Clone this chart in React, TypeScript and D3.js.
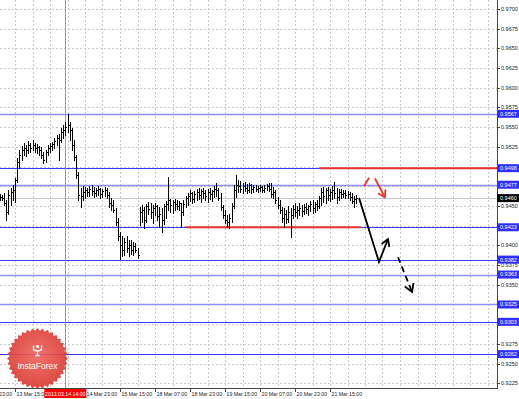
import React from 'react';
import * as d3 from 'd3';

// ---- DATA (prices in points, 1 point = 0.0001) ----
// hourly bars [open, high, low, close]; index 0 = 12 Mar 23:00
const week1Start = 9;
const week1Bars: number[][] = [
  [9463,9465,9458,9461],[9461,9464,9458,9460],[9460,9466,9451,9454],[9454,9458,9432,9442],
  [9442,9470,9440,9464],[9464,9473,9451,9468],[9468,9477,9458,9470],[9470,9486,9455,9483],
  [9483,9511,9480,9506],[9506,9521,9498,9515],[9515,9526,9508,9521],[9521,9530,9515,9524],
  [9524,9527,9513,9521],[9521,9532,9517,9527],[9527,9530,9519,9524],[9524,9534,9521,9527],
  [9527,9530,9519,9524],[9524,9529,9517,9525],[9525,9526,9515,9521],[9521,9525,9511,9515],
  [9515,9519,9505,9508],[9508,9521,9506,9519],[9519,9527,9515,9524],[9524,9530,9519,9526],
  [9526,9531,9521,9529],[9529,9536,9524,9532],[9532,9540,9527,9536],[9536,9541,9508,9534],
  [9534,9549,9531,9544],[9544,9553,9536,9546],[9546,9557,9540,9550],[9550,9567,9544,9553],
  [9553,9557,9534,9546],[9546,9549,9521,9527],[9527,9534,9508,9512],[9512,9515,9486,9489],
  [9489,9493,9458,9464],[9464,9473,9449,9463],[9463,9475,9458,9468],[9468,9474,9460,9470],
  [9470,9473,9463,9468],[9468,9475,9463,9472],[9472,9477,9464,9469],[9469,9474,9461,9466],
  [9466,9473,9463,9470],[9470,9475,9464,9472],[9472,9473,9460,9465],[9465,9472,9461,9469],
  [9469,9474,9463,9470],[9470,9473,9460,9464],[9464,9468,9449,9454],[9454,9460,9445,9451],
  [9451,9458,9442,9445],[9445,9447,9426,9430],[9430,9435,9407,9412],[9412,9417,9383,9401],
  [9401,9412,9387,9394],[9394,9409,9388,9404],[9404,9412,9392,9397],[9397,9407,9387,9401],
  [9401,9407,9389,9394],[9394,9404,9388,9399],[9399,9403,9392,9394],[9394,9397,9384,9388],
];
const week2Start = 73;
const week2Bars: number[][] = [
  [9439,9449,9426,9442],[9442,9451,9430,9445],[9445,9449,9422,9432],[9432,9453,9430,9450],
  [9450,9455,9440,9446],[9446,9454,9435,9442],[9442,9451,9428,9447],[9447,9454,9439,9450],
  [9450,9451,9432,9437],[9437,9449,9423,9440],[9440,9447,9417,9432],[9432,9453,9427,9450],
  [9450,9456,9435,9453],[9453,9487,9445,9458],[9458,9459,9442,9451],[9451,9458,9441,9455],
  [9455,9459,9445,9453],[9453,9458,9446,9450],[9450,9456,9445,9454],[9454,9454,9423,9442],
  [9442,9458,9439,9453],[9453,9463,9449,9460],[9460,9466,9451,9463],[9463,9470,9456,9466],
  [9466,9468,9454,9459],[9459,9469,9455,9465],[9465,9472,9458,9468],[9468,9473,9459,9464],
  [9464,9472,9455,9469],[9469,9473,9460,9466],[9466,9470,9458,9463],[9463,9472,9455,9468],
  [9468,9473,9459,9465],[9465,9470,9456,9469],[9469,9475,9461,9472],[9472,9479,9463,9470],
  [9470,9473,9458,9460],[9460,9466,9445,9449],[9449,9451,9435,9439],[9439,9445,9428,9432],
  [9432,9439,9423,9430],[9430,9440,9422,9435],[9435,9454,9430,9450],[9450,9477,9447,9470],
  [9470,9489,9461,9477],[9477,9483,9468,9475],[9475,9482,9468,9472],[9472,9479,9466,9475],
  [9475,9480,9469,9473],[9473,9478,9466,9470],[9470,9479,9468,9477],[9477,9478,9466,9472],
  [9472,9477,9468,9474],[9474,9477,9469,9472],[9472,9475,9468,9473],[9473,9477,9469,9474],
  [9474,9475,9468,9470],[9470,9477,9468,9473],[9473,9478,9470,9475],[9475,9479,9469,9472],
  [9472,9479,9461,9465],[9465,9474,9460,9468],[9468,9470,9454,9458],[9458,9461,9447,9451],
  [9451,9458,9441,9445],[9445,9449,9430,9435],[9435,9447,9423,9440],[9440,9445,9428,9434],
  [9434,9450,9430,9442],[9442,9447,9411,9439],[9439,9451,9435,9446],[9446,9454,9437,9442],
  [9442,9450,9435,9445],[9445,9454,9439,9447],[9447,9451,9437,9444],[9444,9453,9440,9449],
  [9449,9454,9441,9446],[9446,9451,9439,9450],[9450,9456,9444,9453],[9453,9458,9441,9447],
  [9447,9455,9442,9453],[9453,9458,9445,9450],[9450,9463,9447,9460],[9460,9473,9451,9468],
  [9468,9474,9455,9463],[9463,9473,9454,9470],[9470,9474,9458,9464],[9464,9472,9456,9468],
  [9468,9475,9459,9470],[9470,9480,9460,9466],[9466,9473,9454,9461],[9461,9472,9458,9468],
  [9468,9472,9460,9465],[9465,9470,9461,9466],[9466,9470,9460,9464],[9464,9469,9460,9465],
  [9465,9468,9458,9461],[9461,9466,9454,9456],[9456,9463,9449,9459],[9459,9464,9454,9460],
];

const yTicks = [0.9700,0.9675,0.9650,0.9625,0.9600,0.9575,0.9550,0.9525,0.9500,0.9475,
  0.9450,0.9425,0.9400,0.9375,0.9350,0.9325,0.9300,0.9275,0.9250,0.9225];
const xTickIndex = [0,16,32,48,64,80,96,112,128,144,160];
const xTickText = ['12 Mar 23:00','13 Mar 15:00','14 Mar 07:00','14 Mar 23:00','15 Mar 15:00',
  '18 Mar 07:00','18 Mar 23:00','19 Mar 15:00','20 Mar 07:00','20 Mar 23:00','21 Mar 15:00'];
const levelPrices = [0.9567,0.9498,0.9477,0.9423,0.9382,0.9363,0.9325,0.9303,0.9262];
const lightLevels = [0.9567,0.9477,0.9363,0.9325];
const currentPrice = 0.9460;
const markerIndex = 39;
const markerLabel = '2013.03.14 14:00';
const resistancePrice = 0.9498; const resistanceFrom = 155;
const supportPrice = 0.9423; const supportFrom = 94; const supportTo = 174;
const blackPath: [number, number][] = [[173.3,0.9460],[182.4,0.9379],[186.5,0.9408]];
const blackDashPath: [number, number][] = [[191.1,0.9385],[197.5,0.9341]];
const redDashPath: [number, number][] = [[175.5,0.9475],[179.2,0.9492],[185.1,0.9461]];

const W = 519, H = 399, PR = 497, PB = 388;

export default function App() {
  const x = d3.scaleLinear().domain([0, 160]).range([-20, 330]);
  const y = d3.scaleLinear().domain([0.97, 0.9225]).range([9, 383.3]);
  const cx = (i: number) => Math.round(x(i)) + 0.5;
  const cy = (p: number) => Math.round(y(p)) + 0.5;

  const bars: { i: number; b: number[] }[] = [];
  week1Bars.forEach((b, k) => bars.push({ i: week1Start + k, b }));
  week2Bars.forEach((b, k) => bars.push({ i: week2Start + k, b }));
  const barPath = bars.map(({ i, b }) => {
    const xi = cx(i);
    const [o, h, l, c] = b.map(v => Math.round(y(v / 10000)) + 0.5);
    return `M${xi},${h - 0.5}V${l + 0.5}M${xi - 1},${o}H${xi}M${xi},${c}H${xi + 1}`;
  }).join('');

  const gridX = d3.range(0, 240, 8).map(i => cx(i)).filter(v => v > 0 && v < PR);
  const line = d3.line<[number, number]>().x(d => x(d[0])).y(d => y(d[1]));

  const head = (pts: [number, number][], len: number) => {
    const a = pts[pts.length - 1], b = pts[pts.length - 2];
    const x1 = x(a[0]), y1 = y(a[1]), x0 = x(b[0]), y0 = y(b[1]);
    const ang = Math.atan2(y0 - y1, x0 - x1);
    const d = 0.55;
    return `M${x1 + len * Math.cos(ang + d)},${y1 + len * Math.sin(ang + d)}L${x1},${y1}L${x1 + len * Math.cos(ang - d)},${y1 + len * Math.sin(ang - d)}`;
  };

  const lcx = 37.5, lcy = 358.5;
  const star = d3.range(72).map(k => {
    const r = k % 2 === 0 ? 30.5 : 27.8;
    const a = (k / 72) * Math.PI * 2;
    return `${lcx + r * Math.cos(a)},${lcy + r * Math.sin(a)}`;
  }).join(' ');

  // tick labels hidden under level boxes or the marker box are not drawn
  const boxed = [...levelPrices, currentPrice];
  const visibleYTicks = yTicks.filter(t => !boxed.some(p => Math.abs(y(p) - y(t)) < 4.5));
  const markerX = x(markerIndex);
  const visibleXTicks = xTickIndex.map((ti, k) => ({ ti, k }))
    .filter(({ ti }) => Math.abs(x(ti) - markerX) > 18);

  const font = "'Liberation Sans', Arial, sans-serif";

  return (
    <svg width={W} height={H} style={{ position: 'absolute', left: 0, top: 0, background: '#fff' }}
      fontFamily={font}>
      <defs>
        <clipPath id="plot"><rect x={0} y={0} width={PR} height={PB} /></clipPath>
        <radialGradient id="lg" cx="50%" cy="45%" r="55%">
          <stop offset="0%" stopColor="#f0645c" />
          <stop offset="100%" stopColor="#d9352f" />
        </radialGradient>
      </defs>
      <rect x={0} y={0} width={W} height={H} fill="#fff" />
      <g clipPath="url(#plot)">
        {yTicks.map(t => (
          <line key={t} x1={0} x2={PR} y1={cy(t)} y2={cy(t)} stroke="#c8c8c8" strokeDasharray="2,2" />
        ))}
        {gridX.map(g => (
          <line key={g} x1={g} x2={g} y1={0} y2={PB} stroke="#c8c8c8" strokeDasharray="2,2" />
        ))}
        <line x1={0} x2={PR} y1={cy(currentPrice)} y2={cy(currentPrice)} stroke="#c8c8c8" />
        {levelPrices.map(p => {
          const light = lightLevels.includes(p);
          return (
            <line key={p} x1={0} x2={PR} y1={cy(p)} y2={cy(p)}
              stroke={light ? '#8f8fff' : '#3a3aff'} strokeWidth={light ? 1.6 : 1} />
          );
        })}
        <line x1={cx(markerIndex)} x2={cx(markerIndex)} y1={0} y2={PB} stroke="#ff7070" />
        <line x1={x(resistanceFrom)} x2={PR} y1={y(resistancePrice)} y2={y(resistancePrice)} stroke="#e8332c" strokeWidth={2} />
        <line x1={x(supportFrom)} x2={x(supportTo)} y1={y(supportPrice)} y2={y(supportPrice)} stroke="#e8332c" strokeWidth={2} />
        <path d={barPath} stroke="#000" strokeWidth={1} fill="none" shapeRendering="crispEdges" />
        <path d={line(blackPath) || ''} stroke="#000" strokeWidth={1.8} fill="none" />
        <path d={head(blackPath, 8)} stroke="#000" strokeWidth={1.8} fill="none" />
        <path d={line(blackDashPath) || ''} stroke="#000" strokeWidth={1.8} fill="none" strokeDasharray="6,4" />
        <path d={head(blackDashPath, 9)} stroke="#000" strokeWidth={1.8} fill="none" />
        <path d={line(redDashPath) || ''} stroke="#ee3333" strokeWidth={1.8} fill="none" strokeDasharray="10,12,40" />
        <path d={head(redDashPath, 8)} stroke="#ee3333" strokeWidth={1.8} fill="none" />
        <g opacity={0.9}>
          <polygon points={star} fill="url(#lg)" />
          <g fill="#fff" stroke="#fff">
            <circle cx={lcx} cy={lcy - 12} r={1.6} stroke="none" />
            <path d={`M${lcx - 4},${lcy - 13}V${lcy - 8}M${lcx + 4},${lcy - 13}V${lcy - 8}M${lcx - 4},${lcy - 9}Q${lcx},${lcy - 6} ${lcx + 4},${lcy - 9}M${lcx},${lcy - 8}V${lcy - 3}M${lcx - 2},${lcy - 3}H${lcx + 2}`} fill="none" strokeWidth={1.3} />
          </g>
          <text x={lcx} y={lcy + 10} textAnchor="middle" fontSize={8.5} fill="#fff">InstaForex</text>
        </g>
      </g>
      <line x1={PR + 0.5} x2={PR + 0.5} y1={0} y2={PB + 1} stroke="#444" />
      <line x1={0} x2={PR + 1} y1={PB + 0.5} y2={PB + 0.5} stroke="#444" />
      {yTicks.map(t => (
        <line key={t} x1={PR} x2={PR + 3} y1={cy(t)} y2={cy(t)} stroke="#444" />
      ))}
      {visibleYTicks.map(t => (
        <text key={t} x={501} y={y(t)} dy="0.35em" fontSize={5.5} fill="#222">{t.toFixed(4)}</text>
      ))}
      {xTickIndex.map(ti => (
        <line key={ti} x1={cx(ti)} x2={cx(ti)} y1={PB} y2={PB + 4} stroke="#444" />
      ))}
      {visibleXTicks.map(({ ti, k }) => (
        <text key={ti} x={x(ti) + 1.5} y={395.5} fontSize={5.2} fill="#222">{xTickText[k]}</text>
      ))}
      <rect x={markerX - 21} y={389} width={42} height={9} fill="#ff0000" />
      <text x={markerX} y={395.5} textAnchor="middle" fontSize={5.2} fill="#fff">{markerLabel}</text>
      {levelPrices.map(p => (
        <g key={p}>
          <rect x={PR} y={y(p) - 4} width={W - PR} height={8} fill="#2f2fff" />
          <text x={500} y={y(p)} dy="0.35em" fontSize={5.5} fill="#fff">{p.toFixed(4)}</text>
        </g>
      ))}
      <rect x={PR} y={y(currentPrice) - 4} width={W - PR} height={8} fill="#000" />
      <text x={500} y={y(currentPrice)} dy="0.35em" fontSize={5.5} fill="#fff">{currentPrice.toFixed(4)}</text>
    </svg>
  );
}
